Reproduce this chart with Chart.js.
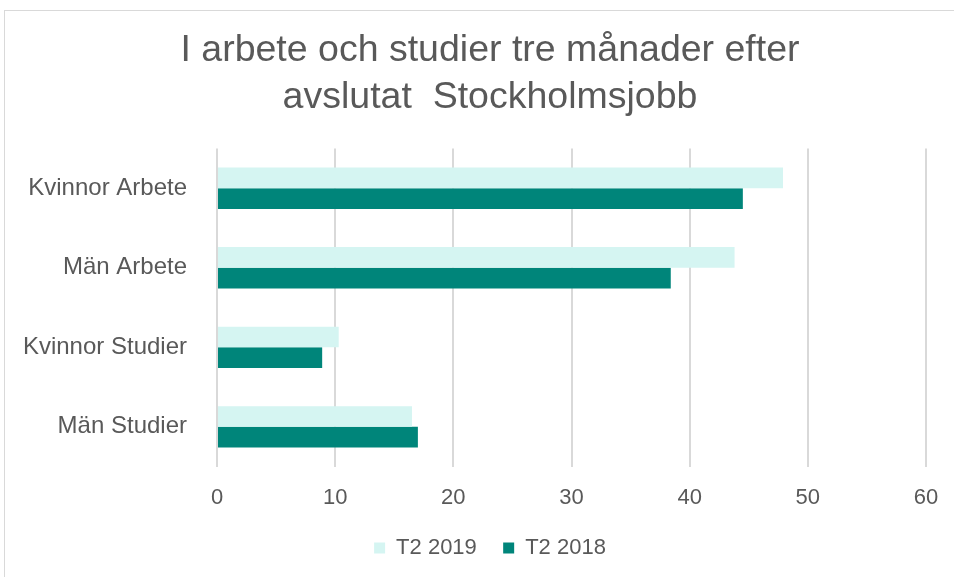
<!DOCTYPE html>
<html>
<head>
<meta charset="utf-8">
<script src="https://cdn.jsdelivr.net/npm/chart.js@4/dist/chart.umd.min.js"></script>
<style>
  html, body { margin: 0; padding: 0; background: #fff; }
  #wrap { position: relative; width: 954px; height: 577px; overflow: hidden; }
  #frame { position: absolute; left: 4px; top: 10px; width: 980px; height: 580px; border: 1px solid #d9d9d9; box-sizing: border-box; }
  canvas { position: absolute; left: 0; top: 0; }
</style>
</head>
<body>
<div id="wrap">
  <div id="frame"></div>
  <canvas id="chart" width="980" height="577"></canvas>
</div>
<script>
// categories and values
const categories = ['Kvinnor Arbete', 'Män Arbete', 'Kvinnor Studier', 'Män Studier'];
const t2_2019 = [47.9, 43.8, 10.3, 16.5];
const t2_2018 = [44.5, 38.4, 8.9, 17.0];
const xTicks = [0, 10, 20, 30, 40, 50, 60];

const textGray = '#595959';
const font = 'Arial, "Liberation Sans", sans-serif';

// the chart frame runs past the right edge of the window, so the canvas is wider
// and an empty right-hand axis keeps the plot area where it is in the reference
new Chart(document.getElementById('chart'), {
  type: 'bar',
  data: {
    labels: categories,
    datasets: [
      {
        label: 'T2 2019',
        data: t2_2019,
        backgroundColor: '#d5f5f2', // light mint
        categoryPercentage: 0.52,
        barPercentage: 1.0,
      },
      {
        label: 'T2 2018',
        data: t2_2018,
        backgroundColor: '#00857a', // dark teal
        categoryPercentage: 0.52,
        barPercentage: 1.0,
      },
    ],
  },
  options: {
    indexAxis: 'y',
    responsive: false,
    animation: false,
    layout: { padding: { top: 11, right: 0, bottom: 8, left: 0 } },
    plugins: {
      title: {
        display: true,
        text: ['I arbete och studier tre månader efter', 'avslutat  Stockholmsjobb'],
        color: textGray,
        font: { family: font, size: 37.5, weight: 'normal', lineHeight: 1.26 },
        padding: { top: 16, bottom: 27 },
      },
      legend: {
        position: 'bottom',
        labels: {
          color: textGray,
          font: { family: font, size: 22 },
          boxWidth: 11,
          boxHeight: 11,
          padding: 8,
          generateLabels: (chart) => {
            const items = Chart.defaults.plugins.legend.labels.generateLabels(chart);
            items[0].text += '   '; // wider gap between the two entries
            return items;
          },
        },
      },
      tooltip: { enabled: false },
    },
    scales: {
      x: {
        min: 0,
        max: 60,
        afterBuildTicks: (scale) => { scale.ticks = xTicks.map(v => ({ value: v })); },
        grid: { color: '#d9d9d9', lineWidth: 2, drawTicks: false },
        border: { display: false },
        ticks: { color: textGray, font: { family: font, size: 22 }, padding: 18 },
      },
      y: {
        afterFit: (scale) => { scale.width = 217; },
        grid: { display: false },
        border: { display: false },
        ticks: { color: textGray, font: { family: font, size: 24 }, padding: 22 },
      },
      yRight: {
        type: 'category',
        position: 'right',
        afterFit: (scale) => { scale.width = 54; },
        grid: { display: false },
        border: { display: false },
        ticks: { display: false },
      },
    },
  },
});
</script>
</body>
</html>
